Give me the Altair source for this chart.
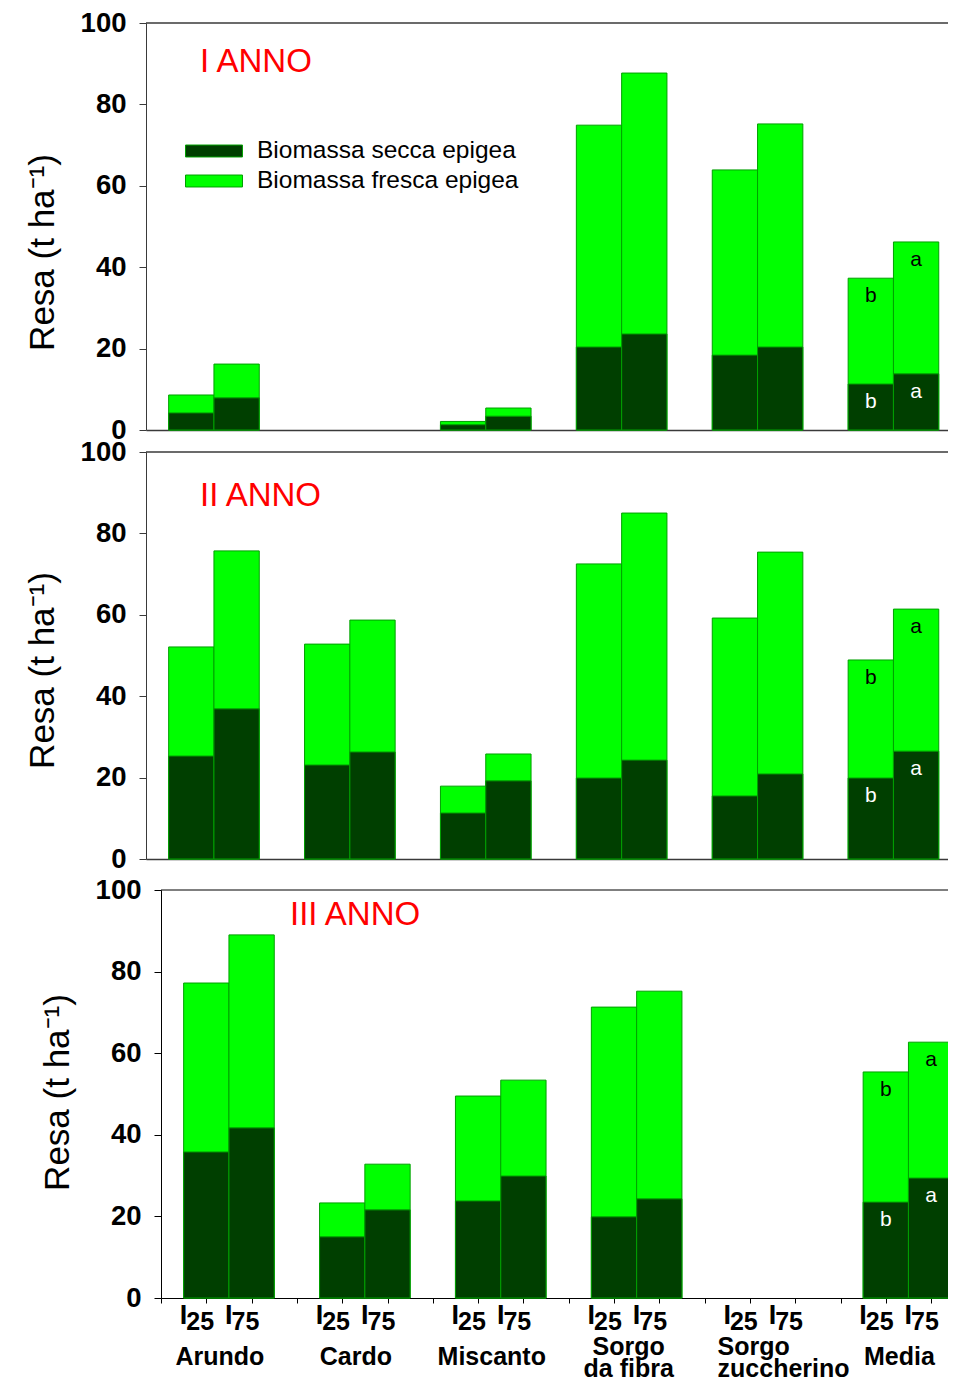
import altair as alt
import pandas as pd

# ---------------- data ----------------
crops = ["Arundo", "Cardo", "Miscanto", "Sorgo da fibra", "Sorgo zuccherino", "Media"]
crop_labels = ["Arundo", "Cardo", "Miscanto", "Sorgo\nda fibra", "Sorgo\nzuccherino", "Media"]
treat_sub = ["25", "75"]
years = ["I ANNO", "II ANNO", "III ANNO"]
series_names = ["Biomassa secca epigea", "Biomassa fresca epigea"]

# order: Arundo I25, I75, Cardo I25, I75, Miscanto ..., Sorgo fibra, Sorgo zucch., Media
fresh_y1 = [8.6, 16.2, None, None, 2.1, 5.4, 74.9, 87.7, 63.9, 75.2, 37.3, 46.2]
dry_y1 = [4.2, 7.9, None, None, 1.3, 3.4, 20.4, 23.6, 18.4, 20.4, 11.3, 13.8]
fresh_y2 = [52.1, 75.7, 52.8, 58.7, 17.9, 25.8, 72.5, 85.0, 59.2, 75.4, 48.9, 61.4]
dry_y2 = [25.3, 36.9, 23.1, 26.3, 11.3, 19.2, 19.9, 24.3, 15.5, 20.9, 19.9, 26.5]
fresh_y3 = [77.2, 89.0, 23.3, 32.8, 49.5, 53.4, 71.3, 75.2, None, None, 55.4, 62.7]
dry_y3 = [35.8, 41.7, 15.0, 21.6, 23.8, 29.9, 19.9, 24.3, None, None, 23.5, 29.4]
media_letters = ["b", "a"]

fresh_all = [fresh_y1, fresh_y2, fresh_y3]
dry_all = [dry_y1, dry_y2, dry_y3]

# ---------------- layout constants ----------------
SLOT = 45.3
PW = 808
FONT = "Liberation Sans, Arial, Helvetica, sans-serif"
LBLFONT = "Liberation Sans, Arial, sans-serif"
DARK = "#003F00"
LIGHT = "#00FF00"
EDGE = "#00A000"


def slot_of(g, t):
    return 3 * g + 1 + t


def panel_df(fresh, dry):
    rows = []
    for vals, name, lc in ((fresh, series_names[1], "black"), (dry, series_names[0], "white")):
        for g, crop in enumerate(crops):
            for t in range(2):
                v = vals[2 * g + t]
                if v is None:
                    continue
                s = slot_of(g, t)
                rows.append(dict(x0=s - 0.5, x1=s + 0.5, xc=s, tipo=name, val=v,
                                 letter=media_letters[t] if crop == "Media" else "",
                                 lc=lc))
    return pd.DataFrame(rows)


title_pos = [(54, 49), (54, 54), (144, 44)]
ytitle_y = [229, 218, 211]


def make_panel(i):
    third = i == 2
    height = 417 if third else 407
    top_off = 9 if third else 0
    x_off = 15 if third else 0
    line_color = "black" if third else "#3a3a3a"

    df = panel_df(fresh_all[i], dry_all[i])

    xs = alt.Scale(domain=[0, (PW - x_off) / SLOT], range=[x_off, PW], nice=False, zero=False)
    ys = alt.Scale(domain=[0, 100], range=[height, top_off], nice=False, zero=True)

    if third:
        xaxis = alt.Axis(values=list(range(18)), labels=False, tickSize=5, tickColor="black",
                         domainColor="black", title=None, grid=False)
    else:
        xaxis = alt.Axis(ticks=False, labels=False, domainColor=line_color, domainWidth=1.3,
                         title=None, grid=False)

    yaxis = alt.Axis(values=[0, 20, 40, 60, 80, 100], title="Resa (t ha⁻¹)",
                     titleFont=FONT, titleFontSize=35, titleFontWeight="normal",
                     titleColor="black", titleX=-104, titleY=ytitle_y[i],
                     titleAlign="center", titleBaseline="middle",
                     labelFont=FONT, labelFontSize=27.5, labelFontWeight="bold",
                     labelColor="black", labelPadding=13, tickSize=7, tickColor=line_color,
                     domainColor=line_color, grid=False, offset=-x_off,
                     labelOverlap=False, labelFlush=False)

    if i == 0:
        leg = alt.Legend(orient="none", legendX=53, legendY=113, title=None,
                         direction="vertical",
                         symbolType="M-2,-0.42H2V0.42H-2Z", symbolSize=812,
                         symbolStrokeColor=EDGE, symbolStrokeWidth=1, symbolOpacity=1,
                         labelFont=FONT, labelFontSize=24.5, labelColor="black",
                         labelOffset=28, rowPadding=3, padding=0, labelLimit=400)
    else:
        leg = None

    bars = alt.Chart(df).mark_bar(stroke=EDGE, strokeWidth=1, opacity=1).encode(
        x=alt.X("x0:Q", scale=xs, axis=xaxis),
        x2="x1:Q",
        y=alt.Y("val:Q", scale=ys, axis=yaxis, stack=None),
        y2=alt.datum(0),
        color=alt.Color("tipo:N", scale=alt.Scale(domain=series_names, range=[DARK, LIGHT]),
                        legend=leg, sort=series_names),
    )

    toprule = alt.Chart(pd.DataFrame({"val": [100]})).mark_rule(
        color=line_color, strokeWidth=1.3 if not third else 1).encode(
        y=alt.Y("val:Q", scale=ys, axis=yaxis),
        x=alt.value(x_off), x2=alt.value(PW),
    )

    letters = alt.Chart(df[df["letter"] != ""]).mark_text(
        dy=18, fontSize=21, font=FONT, baseline="middle", align="center").encode(
        x=alt.X("xc:Q", scale=xs, axis=xaxis),
        y=alt.Y("val:Q", scale=ys, axis=yaxis),
        text="letter:N",
        color=alt.Color("lc:N", scale=None),
    )

    tx, ty = title_pos[i]
    ttl = alt.Chart(pd.DataFrame({"t": [years[i]]})).mark_text(
        align="left", baseline="alphabetic", fontSize=33, color="#FF0000", font=FONT).encode(
        x=alt.value(tx), y=alt.value(ty), text="t:N")

    layers = [bars, toprule, letters, ttl]

    if third:
        lab_rows = []
        for g in range(len(crops)):
            for t in range(2):
                lab_rows.append(dict(xc=slot_of(g, t), sub=treat_sub[t]))
        lab_df = pd.DataFrame(lab_rows)
        grp_df = pd.DataFrame(dict(xc=[3 * g + 1.5 for g in range(len(crops))],
                                   name=crop_labels,
                                   left=[c == "Sorgo zuccherino" for c in crops]))
        i_lab = alt.Chart(lab_df).mark_text(
            align="right", baseline="alphabetic", dx=-19, fontSize=27, fontWeight="bold",
            font=LBLFONT, color="black").encode(
            x=alt.X("xc:Q", scale=xs, axis=xaxis), y=alt.value(443), text=alt.value("I"))
        s_lab = alt.Chart(lab_df).mark_text(
            align="left", baseline="alphabetic", dx=-20, fontSize=25, fontWeight="bold",
            font=LBLFONT, color="black").encode(
            x=alt.X("xc:Q", scale=xs, axis=xaxis), y=alt.value(449), text="sub:N")
        g_two = grp_df[grp_df["name"].str.contains("\n") & ~grp_df["left"]]
        g_one = grp_df[~grp_df["name"].str.contains("\n")]
        g_lab = alt.Chart(g_one).mark_text(
            align="center", baseline="alphabetic", dx=-9, fontSize=25, fontWeight="bold",
            font=LBLFONT, color="black").encode(
            x=alt.X("xc:Q", scale=xs, axis=xaxis), y=alt.value(484), text="name:N")
        g_lab1 = alt.Chart(g_two).mark_text(
            align="center", baseline="alphabetic", dx=-8, fontSize=25, fontWeight="bold",
            font=LBLFONT, color="black", lineBreak="\n", lineHeight=22).encode(
            x=alt.X("xc:Q", scale=xs, axis=xaxis), y=alt.value(474), text="name:N")
        g_lab2 = alt.Chart(grp_df[grp_df["left"]]).mark_text(
            align="left", baseline="alphabetic", dx=-55, fontSize=25, fontWeight="bold",
            font=LBLFONT, color="black", lineBreak="\n", lineHeight=22).encode(
            x=alt.X("xc:Q", scale=xs, axis=xaxis), y=alt.value(474), text="name:N")
        layers += [i_lab, s_lab, g_lab, g_lab1, g_lab2]

    return alt.layer(*layers).properties(width=PW, height=height)


chart = alt.vconcat(make_panel(0), make_panel(1), make_panel(2), spacing=22, bounds="flush").resolve_scale(
    x="independent", y="independent", color="independent"
).properties(
    padding={"left": 17, "top": 1, "right": -7, "bottom": 0},
    background="white",
).configure_view(strokeWidth=0, stroke=None)

chart.save("out.html", embed_options={"renderer": "svg", "actions": False})
